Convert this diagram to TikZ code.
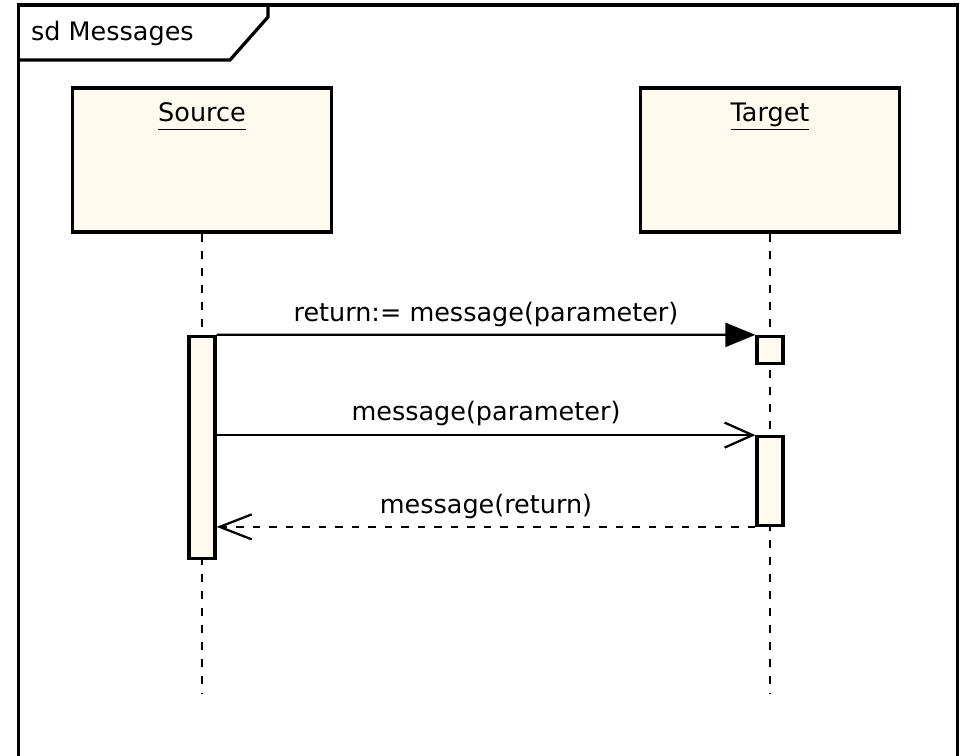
\documentclass[tikz,border=0pt]{standalone}
\usepackage{fontspec}
\setmainfont{DejaVu Sans}
\usetikzlibrary{arrows.meta,positioning}
\definecolor{boxfill}{HTML}{FFF9EE}
\newcommand{\objlabel}[1]{\underline{#1\vphantom{g}}}
\tikzset{
    every node/.style={font=\fontsize{14.5}{17}\selectfont},
    frameline/.style={line width=0.065cm},
    objbox/.style={draw, line width=0.07cm, fill=boxfill, minimum width=5.18cm, minimum height=2.88cm},
    actbox/.style={draw, line width=0.065cm, fill=boxfill, minimum width=0.52cm},
    lifeline/.style={line width=0.05cm, dash pattern=on 0.16cm off 0.18cm},
    msgline/.style={line width=0.045cm},
    callarrow/.style={msgline, -{Triangle[length=0.6cm, width=0.48cm]}},
    sendarrow/.style={msgline, -{Straight Barb[length=0.56cm, width=0.5cm, line width=0.045cm]}},
    replyarrow/.style={msgline, dash pattern=on 0.15cm off 0.18cm, -{Straight Barb[length=0.64cm, width=0.5cm, line width=0.045cm]}}
}
\begin{document}
\begin{tikzpicture}
    \useasboundingbox (0,0) rectangle (19.24,15.12);

    % Frame and its tab
    \draw[frameline] (0.37,-0.2) -- (0.37,15.02) -- (19.15,15.02) -- (19.15,-0.2);
    \draw[frameline] (0.37,13.92) -- (4.6,13.92) -- (5.36,14.78) -- (5.36,15.02);
    \node[anchor=west] (title) at (0.5,14.46) {sd Messages};

    % Objects
    \node[objbox] (source) at (4.04,11.92) {};
    \node[objbox] (target) at (15.4,11.92) {};
    \node at (source.north) [yshift=-0.6cm] {\objlabel{Source}};
    \node at (target.north) [yshift=-0.6cm] {\objlabel{Target}};

    % Lifelines
    \coordinate (sourceEnd) at (4.04,1.26);
    \coordinate (targetEnd) at (15.4,1.26);
    \draw[lifeline] (source.south) -- (sourceEnd);
    \draw[lifeline] (target.south) -- (targetEnd);

    % Activations
    \node[actbox, minimum height=4.44cm] (sourceAct) at (4.04,6.17) {};
    \node[actbox, minimum height=0.54cm] (targetAct1) at (15.4,8.12) {};
    \node[actbox, minimum height=1.77cm] (targetAct2) at (15.4,5.5) {};

    % Messages
    \draw[callarrow] (sourceAct.north east) -- (targetAct1.north west)
        node[midway, yshift=0.4cm] {return:= message(parameter)};
    \draw[sendarrow] (sourceAct.east |- targetAct2.north west) -- (targetAct2.north west)
        node[midway, yshift=0.44cm] {message(parameter)};
    \draw[replyarrow] (targetAct2.south west) -- (sourceAct.east |- targetAct2.south west)
        node[midway, yshift=0.4cm] {message(return)};
\end{tikzpicture}
\end{document}
